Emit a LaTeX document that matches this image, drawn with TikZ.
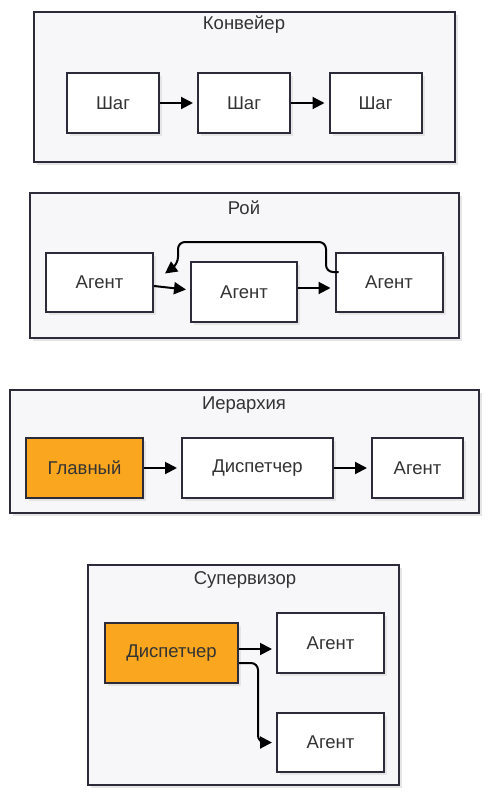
\documentclass[tikz,border=0pt]{standalone}
\usepackage{fontspec}
\setmainfont{Liberation Sans}
\usepackage{tikz}
\usetikzlibrary{arrows.meta,shadows}
\usepackage{xcolor}
\definecolor{edge}{HTML}{2B2B3A}
\definecolor{panelbg}{HTML}{F7F7FA}
\definecolor{lead}{HTML}{FAA61E}
\definecolor{txt}{HTML}{333333}

\begin{document}
\begin{tikzpicture}[x=1pt,y=-1pt,
        font=\fontsize{18.5}{22}\selectfont, text=txt,
        panel/.style={draw=edge,line width=2pt,fill=panelbg,
            drop shadow={shadow xshift=3pt,shadow yshift=-3pt,fill=black!10,opacity=1}},
        box/.style={draw=edge,line width=2pt,fill=white,minimum height=60,
            drop shadow={shadow xshift=3pt,shadow yshift=-3pt,fill=black!10,opacity=1}},
        mainbox/.style={box,fill=lead},
        arr/.style={line width=2pt,-{Triangle[length=12pt,width=12pt]},shorten >=4pt}
    ]
    \useasboundingbox (0,0) rectangle (489,800);

    % Pipeline
    \node[panel,minimum width=421,minimum height=150] (conv) at (244.5,87) {};
    \node (convt) at (244,25) {Конвейер};
    \node[box,minimum width=92] (s1) at (113,103) {Шаг};
    \node[box,minimum width=92] (s2) at (244,103) {Шаг};
    \node[box,minimum width=92] (s3) at (375.5,103) {Шаг};
    \draw[arr] (s1.east) -- (s2.west);
    \draw[arr] (s2.east) -- (s3.west);

    % Swarm
    \node[panel,minimum width=429,minimum height=145] (swarm) at (244.5,265.5) {};
    \node (swarmt) at (244,208) {Рой};
    \node[box,minimum width=107,minimum height=59] (a1) at (99.5,282.5) {Агент};
    \node[box,minimum width=106] (a2) at (244,292) {Агент};
    \node[box,minimum width=107,minimum height=59] (a3) at (389,282.5) {Агент};
    \draw[arr] ([yshift=-3.5pt]a1.east) -- ([yshift=2pt]a2.west);
    \draw[arr] ([yshift=4pt]a2.east) -- ([yshift=-5.5pt]a3.west);
    \draw[arr,shorten >=0pt,rounded corners=7pt] ([xshift=4pt,yshift=10.5pt]a3.west)
        -- (326,272) -- (326,242) -- (178,242) -- (178,264)
        -- ([xshift=11pt,yshift=9pt]a1.east);

    % Hierarchy
    \node[panel,minimum width=469,minimum height=123] (hier) at (244.5,451.5) {};
    \node (hiert) at (244,405) {Иерархия};
    \node[mainbox,minimum width=117] (h1) at (84.5,468) {Главный};
    \node[box,minimum width=151] (h2) at (257.5,468) {Диспетчер};
    \node[box,minimum width=91] (h3) at (417.5,468) {Агент};
    \draw[arr] (h1.east) -- (h2.west);
    \draw[arr] (h2.east) -- (h3.west);

    % Supervisor
    \node[panel,minimum width=311,minimum height=220] (sup) at (243.5,675) {};
    \node (supt) at (245,580) {Супервизор};
    \node[mainbox,minimum width=133] (d) at (171.5,653) {Диспетчер};
    \node[box,minimum width=107] (b1) at (330.5,643) {Агент};
    \node[box,minimum width=107,minimum height=59] (b2) at (330.5,742.5) {Агент};
    \draw[arr] ([yshift=4pt]d.east) -- ([yshift=-6pt]b1.west);
    \draw[arr,rounded corners=7pt] ([yshift=-10pt]d.east) -- ++(19,0) |- (b2.west);
\end{tikzpicture}
\end{document}
